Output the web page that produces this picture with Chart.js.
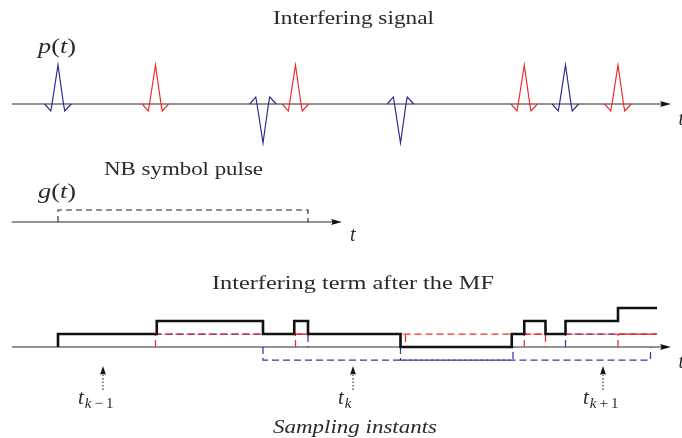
<!DOCTYPE html>
<html><head><meta charset="utf-8">
<script src="https://cdn.jsdelivr.net/npm/chart.js@4.4.1/dist/chart.umd.min.js"></script>
<style>
html,body{margin:0;padding:0;background:#fff;}
#wrap{position:relative;width:682px;height:438px;overflow:hidden;background:#fff;}
#c{position:absolute;left:0;top:0;}
.lbl{position:absolute;white-space:nowrap;font-family:"Liberation Serif","Times New Roman",serif;font-size:19px;color:#2a2a2a;line-height:normal;transform-origin:0 0;}
.lbl i{font-style:italic;}
.bl{display:inline-block;width:0;height:0;}
.sub{font-size:15px;position:relative;top:4px;margin-left:1px;}
</style></head><body>
<div id="wrap"><canvas id="c" width="682" height="438"></canvas></div>
<script>
// ---------------- data ----------------
const symbolPeriod = 10;                         // duration of the NB pulse g(t)
const bluePulseTimes = [0, 8.2, 13.7, 20.3];
const bluePulseSigns = [1, -1, -1, 1];
const redPulseTimes  = [3.9, 9.5, 18.65, 22.4];
const redPulseSigns  = [1, 1, 1, 1];
const pulseShapeT = [-0.53, -0.29, -0.24, 0, 0.22, 0.27, 0.53];
const pulseShapeA = [0, -0.18, 0, 1, 0, -0.18, 0];
const mfStepTimes  = [0, 3.95, 8.2, 9.45, 10.0, 13.7, 18.15, 18.65, 19.5, 20.3, 22.4];
const mfStepLevels = [1, 2, 1, 2, 1, 0, 1, 2, 1, 2, 3];
const mfEndTime = 23.96;
const sampleTimes  = [1.8, 11.8, 21.8];
const sampleSubs   = ['<i>k</i>&#8201;−&#8201;1', '<i>k</i>', '<i>k</i>&#8201;+&#8201;1'];

// ---------------- layout / style ----------------
const W = 682, H = 438;
const pxPerUnitX = 25, zeroX = 58;
const panels = { yA: {zero:104, unit:39}, yB: {zero:222, unit:12}, yC: {zero:347, unit:13} };
const BLUE = '#2a2a92', RED = '#ee2a2a', BLUE_D = '#3636a0', RED_D = '#ee2c2c';
const AX = '#2a2a2a';

function arrowHead(len, hw) {
  const c = document.createElement('canvas');
  c.width = 2 * len + 2; c.height = 2 * hw + 2;
  const g = c.getContext('2d');
  const cx = c.width / 2, cy = c.height / 2;
  g.fillStyle = '#111';
  g.beginPath();
  g.moveTo(cx, cy);
  g.lineTo(cx - len, cy - hw);
  g.quadraticCurveTo(cx - len * 0.75, cy, cx - len, cy + hw);
  g.closePath();
  g.fill();
  return c;
}
const headAxis = arrowHead(11, 3);
const headSample = arrowHead(9, 3);

const datasets = [];
const line = (pts, axis, color, width, dash, order) => datasets.push({
  data: pts, yAxisID: axis, borderColor: color, borderWidth: width,
  borderDash: dash || [], pointRadius: 0, tension: 0, fill: false, order: order || 5
});

// axes with arrows
const axisStart = -1.85;
[['yA', 24.52], ['yB', 11.36], ['yC', 24.52]].forEach(([ax, tip]) => {
  line([{x: axisStart, y: 0}, {x: tip - 0.3, y: 0}], ax, AX, 1.1, null, 8);
  datasets.push({data: [{x: tip, y: 0}], yAxisID: ax, showLine: false,
    pointStyle: headAxis, pointRadius: 6, pointRotation: 0, order: 1});
});

// interfering pulses
function pulse(t0, s) { return pulseShapeT.map((dt, i) => ({x: t0 + dt, y: s * pulseShapeA[i]})); }
bluePulseTimes.forEach((t, i) => line(pulse(t, bluePulseSigns[i]), 'yA', BLUE, 1.2));
redPulseTimes.forEach((t, i) => line(pulse(t, redPulseSigns[i]), 'yA', RED, 1.2));

// NB symbol pulse g(t)
line([{x:0,y:0},{x:0,y:1},{x:symbolPeriod,y:1},{x:symbolPeriod,y:0}], 'yB', '#222', 1.1, [6, 4]);

// individual MF outputs (dashed)
function mfRect(t0, s) {
  const e = t0 + symbolPeriod, pts = [{x:t0,y:0},{x:t0,y:s},{x:Math.min(e, mfEndTime),y:s}];
  if (e <= mfEndTime) pts.push({x:e,y:0});
  return pts;
}
bluePulseTimes.forEach((t, i) => line(mfRect(t, bluePulseSigns[i]), 'yC', BLUE_D, 1.25, [7, 4], 4));
redPulseTimes.forEach((t, i) => line(mfRect(t, redPulseSigns[i]), 'yC', RED_D, 1.25, [7, 4], 3));

// total interfering term (thick black staircase)
const stepPts = [{x: mfStepTimes[0], y: 0}].concat(
  mfStepTimes.map((t, i) => ({x: t, y: mfStepLevels[i]})),
  [{x: mfEndTime, y: mfStepLevels[mfStepLevels.length - 1]}]);
datasets.push({data: stepPts, yAxisID: 'yC', borderColor: '#111', borderWidth: 2.6,
  stepped: 'before', pointRadius: 0, fill: false, order: 0});

// sampling instants
sampleTimes.forEach(t => {
  line([{x: t, y: -3.3}, {x: t, y: -2.1}], 'yC', '#222', 1.1, [1.3, 2.2], 2);
  datasets.push({data: [{x: t, y: -1.46}], yAxisID: 'yC', showLine: false,
    pointStyle: headSample, pointRadius: 5, pointRotation: -90, order: 1});
});

const scales = {
  x: {type: 'linear', display: false, bounds: 'data', min: -zeroX / pxPerUnitX, max: (W - zeroX) / pxPerUnitX},
  y: {display: false}
};
Object.entries(panels).forEach(([id, p]) => {
  scales[id] = {type: 'linear', display: false, bounds: 'data', min: -(H - p.zero) / p.unit, max: p.zero / p.unit};
});

new Chart(document.getElementById('c'), {
  type: 'line',
  data: {datasets},
  options: {
    responsive: false, animation: false, devicePixelRatio: 1, events: [],
    layout: {padding: 0, autoPadding: false},
    plugins: {legend: {display: false}, title: {display: false}, tooltip: {enabled: false}},
    scales
  }
});

// ---------------- text ----------------
const texts = [
  {h: 'Interfering signal', x: 273, b: 24, w: 161},
  {h: '<i>p</i>(<i>t</i>)', x: 38, b: 53, w: 38, fs: 20},
  {h: 'NB symbol pulse', x: 104, b: 175, w: 159},
  {h: '<i>g</i>(<i>t</i>)', x: 38, b: 198, w: 38, fs: 20},
  {h: '<i>t</i>', x: 350, b: 241, fs: 20},
  {h: '<i>t</i>', x: 678.5, b: 125, fs: 20},
  {h: '<i>t</i>', x: 678.5, b: 368, fs: 20},
  {h: 'Interfering term after the MF', x: 212, b: 289, w: 282},
  {h: '<i>Sampling instants</i>', x: 273, b: 433, w: 164}
];
sampleTimes.forEach((t, i) => {
  texts.push({h: '<i>t</i><span class="sub">' + sampleSubs[i] + '</span>', b: 404, fs: 21,
    x: [78, 338, 583][i]});
});
const wrap = document.getElementById('wrap');
const els = texts.map(o => {
  const d = document.createElement('div');
  d.className = 'lbl';
  if (o.fs) d.style.fontSize = o.fs + 'px';
  d.innerHTML = o.h + '<span class="bl"></span>';
  wrap.appendChild(d);
  return [d, o];
});
function place() {
  els.forEach(([d, o]) => {
    d.style.transform = 'none';
    d.style.left = o.x + 'px'; d.style.top = '0px';
    const r = d.getBoundingClientRect(), m = d.querySelector('.bl').getBoundingClientRect();
    d.style.top = (o.b - (m.top - r.top)) + 'px';
    if (o.w) d.style.transform = 'scaleX(' + (o.w / r.width) + ')';
  });
}
place();
if (document.fonts && document.fonts.ready) document.fonts.ready.then(place);
</script>
</body></html>
